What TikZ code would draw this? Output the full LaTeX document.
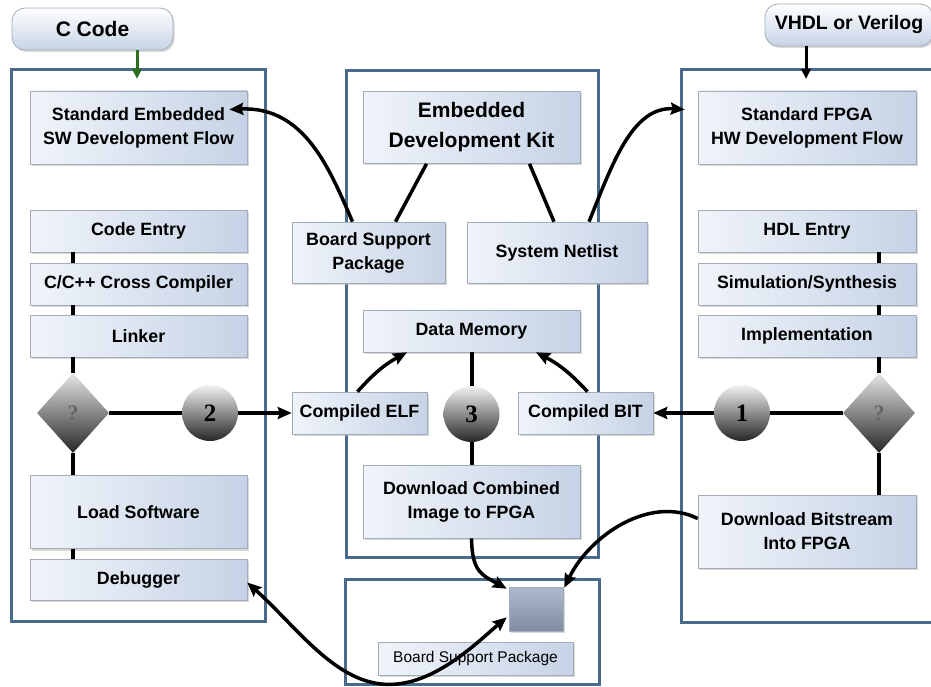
\documentclass[tikz,border=0pt]{standalone}
\usepackage{fontspec}
\setmainfont{Liberation Sans}
\newfontfamily\numfont{Liberation Serif}
\usetikzlibrary{shapes.geometric,shadows,arrows.meta,calc}

\definecolor{panelblue}{HTML}{4A6A8C}
\definecolor{boxleft}{HTML}{F0F4FA}
\definecolor{boxright}{HTML}{C6D3E6}
\definecolor{boxline}{HTML}{A3ADB9}
\definecolor{ccgreen}{HTML}{2F6E1F}
\definecolor{sqtop}{HTML}{AEB9CB}
\definecolor{sqbot}{HTML}{7F8DA2}

\begin{document}
\begin{tikzpicture}[x=1pt,y=1pt,
  panel/.style={draw=panelblue,line width=3pt},
  flowbox/.style={draw=boxline,line width=0.6pt,left color=boxleft,right color=boxright,
    drop shadow={shadow xshift=1.5pt,shadow yshift=-2pt,fill=black!30},
    align=center,inner sep=0pt,font=\bfseries\fontsize{17.8}{24}\selectfont},
  srcbox/.style={draw=boxline,line width=0.8pt,rounded corners=13pt,top color=white,
    bottom color=boxright,drop shadow={shadow xshift=1.5pt,shadow yshift=-2pt,fill=black!30},
    inner sep=0pt,font=\bfseries\fontsize{21}{24}\selectfont},
  decision/.style={diamond,draw=none,top color=gray!20,middle color=gray!55,bottom color=black!85,
    inner sep=0pt,minimum width=72pt,minimum height=80pt,
    font=\numfont\bfseries\fontsize{22}{22}\selectfont,text=black!60},
  ball/.style={circle,draw=none,top color=gray!10,middle color=gray!50,bottom color=black!85,
    minimum size=56pt,inner sep=0pt,font=\numfont\bfseries\fontsize{25}{25}\selectfont},
  link/.style={line width=4pt,draw=black},
  thinlink/.style={line width=3.5pt,draw=black},
  arr/.style={line width=3.5pt,draw=black,-{Stealth[length=14pt,width=12pt,inset=2pt]}},
  smallarr/.style={line width=3pt,-{Triangle[length=10pt,width=9pt]}},
]
\useasboundingbox (0,0) rectangle (931,-687);
\fill[white] (0,0) rectangle (931,-687);

% container panels
\draw[panel] (11,-70) rectangle (265,-621);
\draw[panel] (346,-71) rectangle (598,-557);
\draw[panel] (345,-579) rectangle (599,-684);
\draw[panel] (681,-70) rectangle (960,-622);

% design sources
\node[srcbox,minimum width=161pt,minimum height=42pt] (ccode) at (92.5,-29) {C Code};
\node[srcbox,minimum width=168pt,minimum height=42pt,font=\bfseries\fontsize{19.5}{24}\selectfont]
  (vhdl) at (849,-25) {VHDL or Verilog};

% software flow
\node[flowbox,minimum width=217pt,minimum height=73pt] (sef) at (138.5,-127.5)
  {Standard Embedded\\SW Development Flow};
\node[flowbox,minimum width=217pt,minimum height=42pt] (codeentry) at (138.5,-231) {Code Entry};
\node[flowbox,minimum width=217pt,minimum height=42pt] (cross) at (138.5,-284) {C/C++ Cross Compiler};
\node[flowbox,minimum width=217pt,minimum height=42pt] (linker) at (138.5,-336) {Linker};
\node[decision] (dq1) at (73,-413) {?};
\node[ball] (c2) at (210,-413) {2};
\node[flowbox,minimum width=217pt,minimum height=73pt] (loadsw) at (138.5,-512) {Load Software};
\node[flowbox,minimum width=217pt,minimum height=41pt] (debugger) at (138.5,-579.5) {Debugger};

% embedded development kit
\node[flowbox,minimum width=217pt,minimum height=72pt,font=\bfseries\fontsize{21}{30}\selectfont]
  (edk) at (471.5,-127.5) {Embedded\\Development Kit};
\node[flowbox,minimum width=153pt,minimum height=61pt] (bsp) at (368.5,-252.5) {Board Support\\Package};
\node[flowbox,minimum width=180pt,minimum height=61pt] (netlist) at (557,-252.5) {System Netlist};
\node[flowbox,minimum width=217pt,minimum height=42pt] (datamem) at (471.5,-331) {Data Memory};
\node[flowbox,minimum width=135pt,minimum height=42pt] (elf) at (359.5,-413) {Compiled ELF};
\node[ball] (c3) at (471.5,-414) {3};
\node[flowbox,minimum width=135pt,minimum height=42pt] (bit) at (585.5,-413) {Compiled BIT};
\node[flowbox,minimum width=217pt,minimum height=73pt] (dlcomb) at (471.5,-501.5)
  {Download Combined\\Image to FPGA};

% target board
\node[draw=boxline,line width=0.5pt,top color=sqtop,bottom color=sqbot,minimum width=54pt,
  minimum height=44pt,inner sep=0pt,drop shadow={shadow xshift=1.5pt,shadow yshift=-2pt,fill=black!30}]
  (sq) at (536,-609) {};
\node[flowbox,minimum width=195pt,minimum height=33pt,font=\fontsize{15.5}{18}\selectfont]
  (bspsmall) at (475.5,-658.5) {Board Support Package};

% hardware flow
\node[flowbox,minimum width=218pt,minimum height=73pt] (sfpga) at (807,-127.5)
  {Standard FPGA\\HW Development Flow};
\node[flowbox,minimum width=218pt,minimum height=42pt] (hdl) at (807,-231) {HDL Entry};
\node[flowbox,minimum width=218pt,minimum height=42pt] (simsyn) at (807,-284) {Simulation/Synthesis};
\node[flowbox,minimum width=218pt,minimum height=42pt] (impl) at (807,-336) {Implementation};
\node[decision] (dq2) at (879,-413) {?};
\node[ball] (c1) at (742,-413) {1};
\node[flowbox,minimum width=218pt,minimum height=73pt] (dlbit) at (807,-531.5)
  {Download Bitstream\\Into FPGA};

% entry arrows
\coordinate (swin) at (137,-79);
\coordinate (hwin) at (806,-79);
\draw[smallarr,ccgreen] (ccode.south -| swin) -- (swin);
\draw[smallarr,black] (vhdl.south -| hwin) -- (hwin);

% software chain
\draw[link] (codeentry.south -| dq1) -- (cross.north -| dq1);
\draw[link] (cross.south -| dq1) -- (linker.north -| dq1);
\draw[link] (linker.south -| dq1) -- (dq1.north);
\draw[link] (dq1.south) -- (loadsw.north -| dq1);
\draw[link] (loadsw.south -| dq1) -- (debugger.north -| dq1);
\draw[link] (dq1.east) -- (c2.west);
\draw[arr] (c2.east) -- (elf.west);

% hardware chain
\draw[link] (hdl.south -| dq2) -- (simsyn.north -| dq2);
\draw[link] (simsyn.south -| dq2) -- (impl.north -| dq2);
\draw[link] (impl.south -| dq2) -- (dq2.north);
\draw[link] (dq2.south) -- (dlbit.north -| dq2);
\draw[link] (dq2.west) -- (c1.east);
\draw[arr] (c1.west) -- (bit.east);

% kit connections
\draw[arr] ([xshift=-16pt]bsp.north) .. controls (330,-170) and (305,-106) .. ([xshift=-18pt,yshift=18pt]sef.east);
\draw[thinlink] ([xshift=27pt]bsp.north) -- ([xshift=-45pt]edk.south);
\draw[thinlink] ([xshift=58pt]edk.south) -- ([xshift=-3pt]netlist.north);
\draw[arr] ([xshift=32pt]netlist.north) .. controls (612,-165) and (632,-106) .. ([xshift=-13pt,yshift=18pt]sfpga.west);
\draw[arr] ([xshift=-2pt]elf.north) to[bend left=10] ([xshift=-64.5pt]datamem.south);
\draw[arr] ([xshift=2pt]bit.north) to[bend right=10] ([xshift=64.5pt]datamem.south);
\draw[link] (datamem.south) -- (c3.north);
\draw[link] (c3.south) -- (dlcomb.north);

% downloads to the board
\draw[arr] (dlcomb.south) .. controls (472,-572) and (482,-575) .. ([xshift=-2pt,yshift=-2pt]sq.north west);
\draw[arr] ([yshift=13pt]dlbit.west) .. controls (650,-495) and (590,-535) .. ([xshift=1pt,yshift=-1pt]sq.north east);
\draw[thinlink,{Stealth[length=14pt,width=12pt,inset=2pt]}-{Stealth[length=14pt,width=12pt,inset=2pt]}]
  ([yshift=-3pt]debugger.east) .. controls (300,-630) and (340,-690) .. (397,-684)
  .. controls (440,-680) and (480,-640) .. ([xshift=-2pt,yshift=14pt]sq.south west);
\end{tikzpicture}
\end{document}
